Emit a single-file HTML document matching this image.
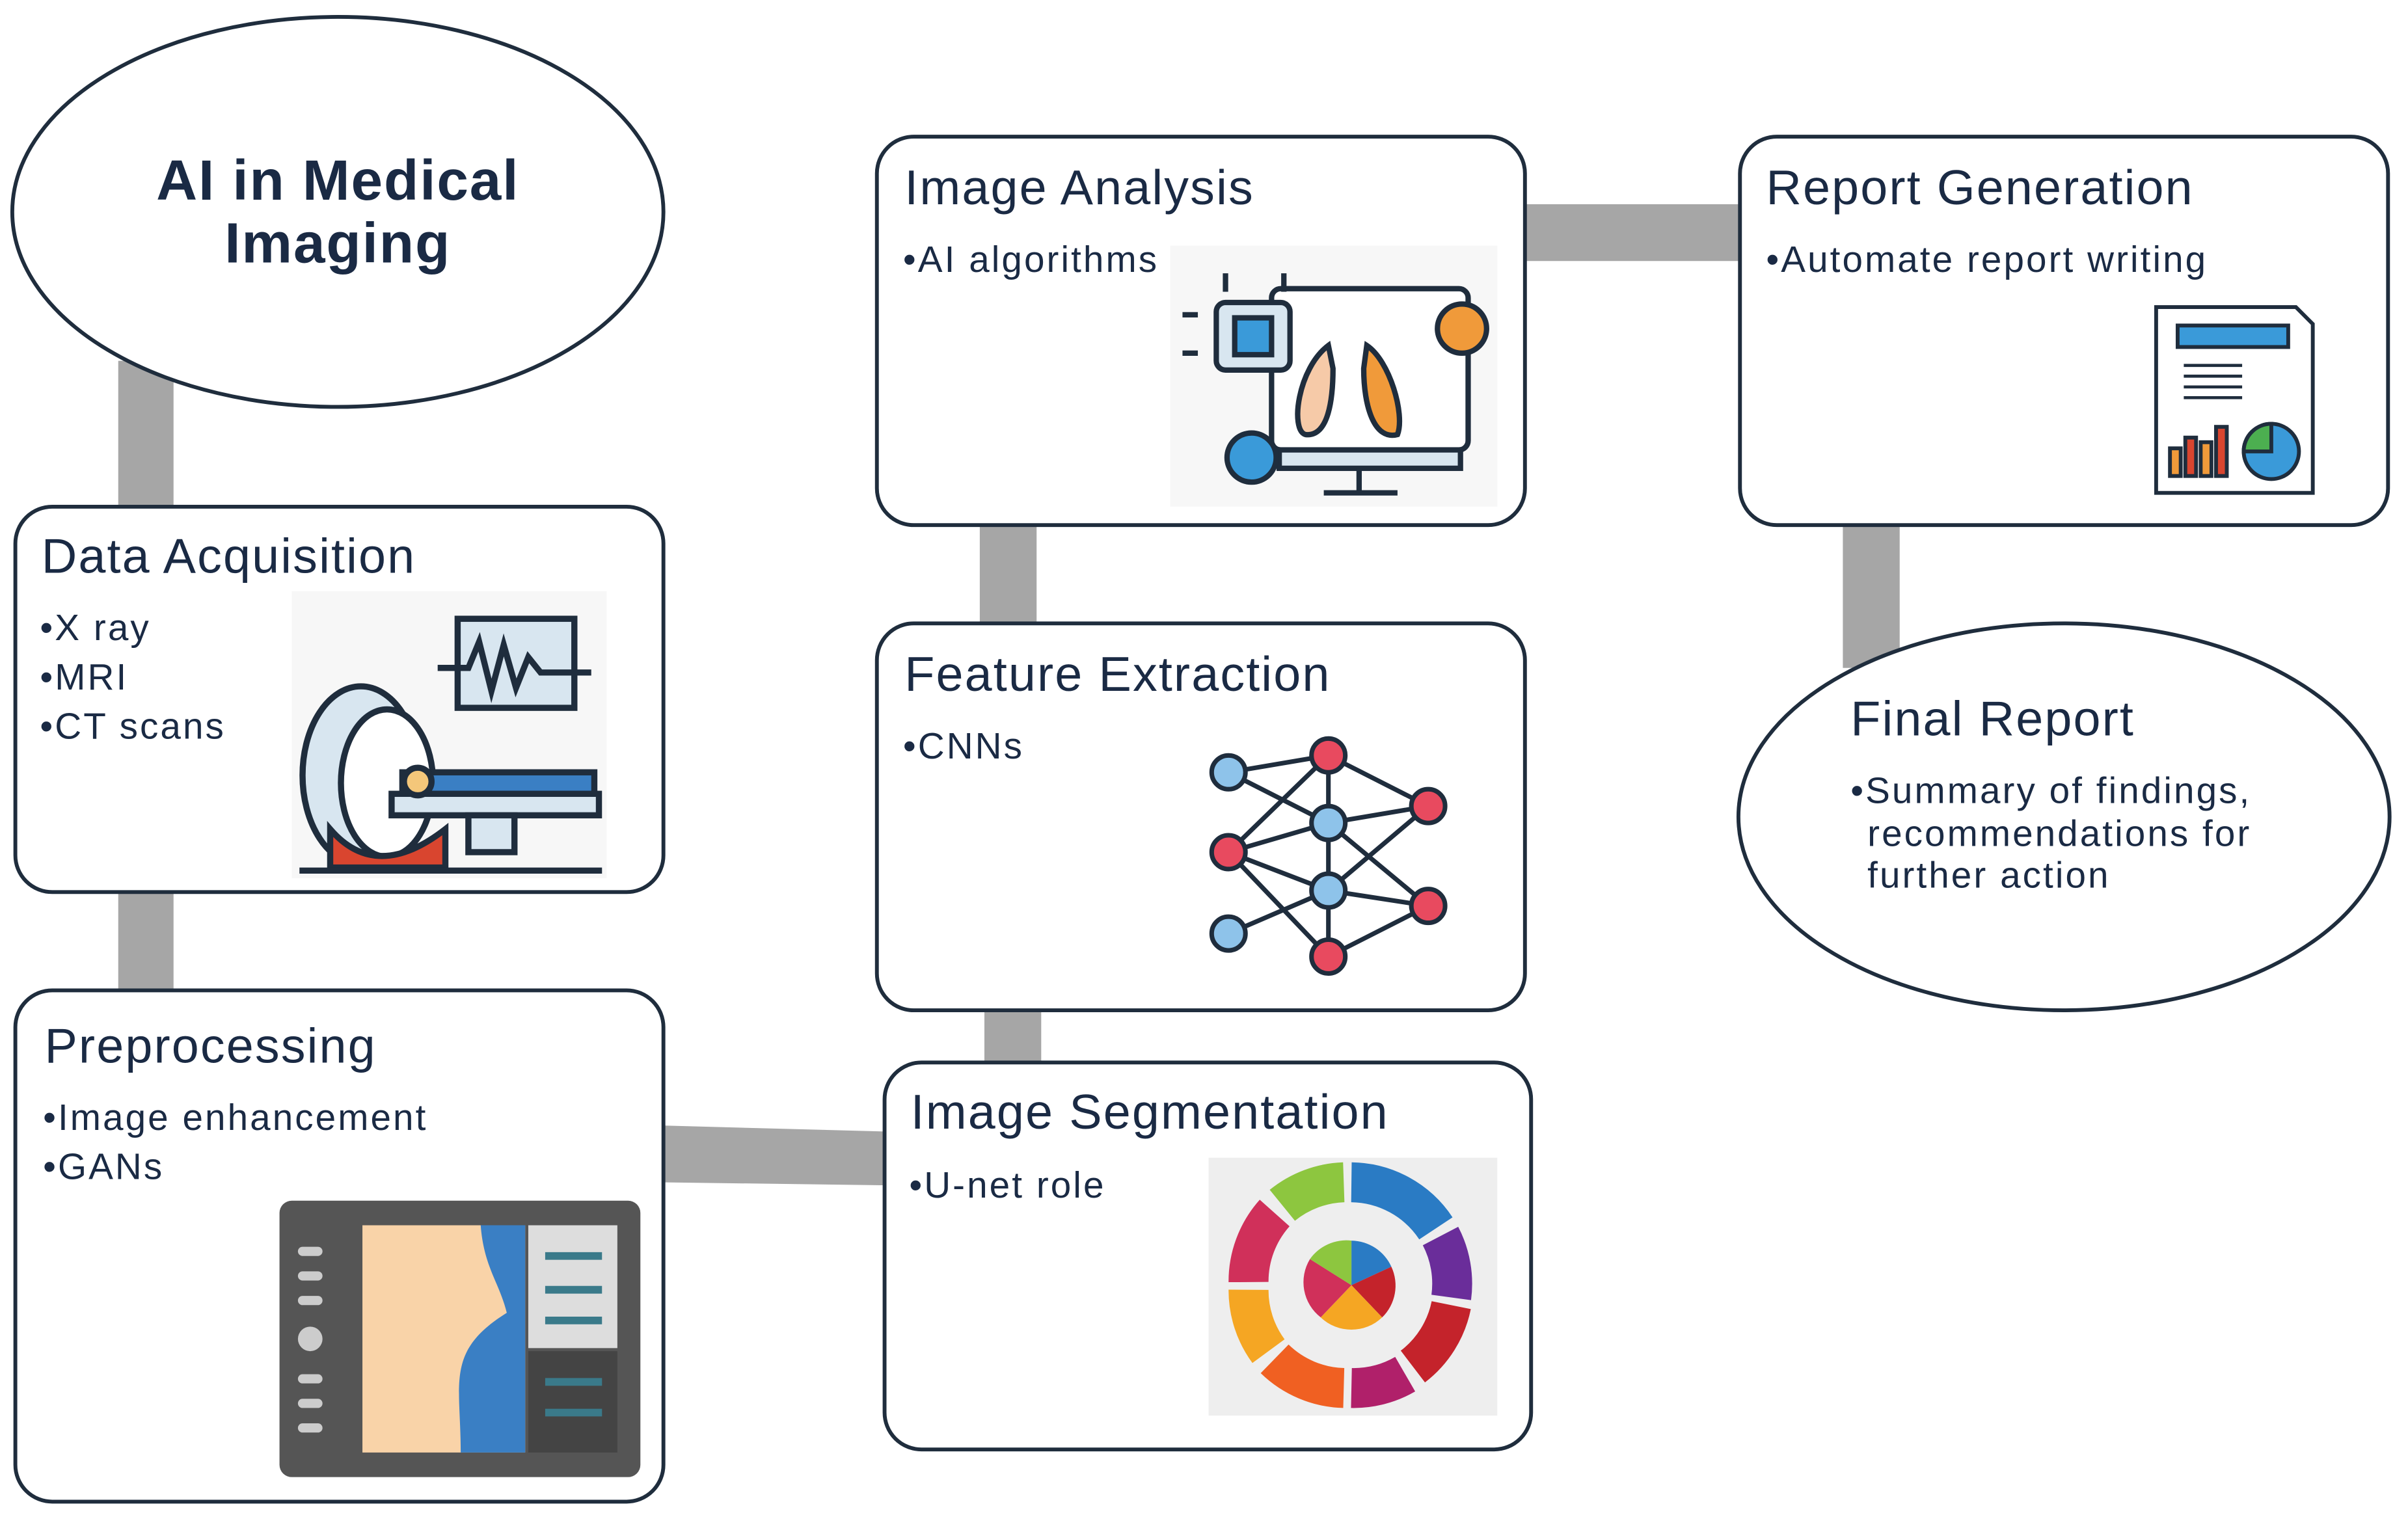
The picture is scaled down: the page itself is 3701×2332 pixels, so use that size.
<!DOCTYPE html>
<html><head><meta charset="utf-8"><style>html,body{margin:0;padding:0;background:#fff}svg{display:block}</style></head>
<body>
<svg width="3701" height="2332" viewBox="0 0 1568 988" preserveAspectRatio="none" xmlns="http://www.w3.org/2000/svg" font-family="Liberation Sans, sans-serif">
<rect width="1568" height="988" fill="#fff"/>
<g fill="#a6a6a6">
<rect x="77" y="235" width="36" height="100"/>
<rect x="77" y="578" width="36" height="70"/>
<polygon points="430,733 578,737 578,772 430,770"/>
<rect x="641" y="655" width="37" height="40"/>
<rect x="638" y="340" width="37" height="70"/>
<rect x="990" y="133" width="146" height="37"/>
<rect x="1200" y="340" width="37" height="95"/>
</g>
<g fill="#fff" stroke="#1f2d3d" stroke-width="2.5">
<ellipse cx="220" cy="138" rx="212" ry="127"/>
<rect x="10" y="330" width="422" height="251" rx="24"/>
<rect x="10" y="645" width="422" height="333" rx="24"/>
<rect x="576" y="692" width="421" height="252" rx="24"/>
<rect x="571" y="406" width="422" height="252" rx="24"/>
<rect x="571" y="89" width="422" height="253" rx="24"/>
<rect x="1133" y="89" width="422" height="253" rx="24"/>
<ellipse cx="1344" cy="532" rx="212" ry="126"/>
</g>
<g fill="#1a2a44">
<g font-size="37" font-weight="bold" text-anchor="middle" letter-spacing="0.8">
<text x="220" y="130">AI in Medical</text>
<text x="220" y="171">Imaging</text>
</g>
<g font-size="32" letter-spacing="0.9">
<text x="27" y="373">Data Acquisition</text>
<text x="29" y="692">Preprocessing</text>
<text x="593" y="735">Image Segmentation</text>
<text x="589" y="450">Feature Extraction</text>
<text x="589" y="133">Image Analysis</text>
<text x="1150" y="133">Report Generation</text>
<text x="1205" y="479">Final Report</text>
</g>
<g font-size="24" letter-spacing="1.3">
<text x="26" y="417">•X ray</text>
<text x="26" y="449">•MRI</text>
<text x="26" y="481">•CT scans</text>
<text x="28" y="736">•Image enhancement</text>
<text x="28" y="768">•GANs</text>
<text x="592" y="780">•U-net role</text>
<text x="588" y="494">•CNNs</text>
<text x="588" y="177">•AI algorithms</text>
<text x="1150" y="177">•Automate report writing</text>
<text x="1205" y="523">•Summary of findings,</text>
<text x="1216" y="551">recommendations for</text>
<text x="1216" y="578">further action</text>
</g>
</g>
<rect x="190" y="385" width="205" height="187" fill="#f7f7f7"/>
<g stroke="#1f2d3d" stroke-width="4" fill="none">
<rect x="298" y="403" width="76" height="58" fill="#d8e6f0"/>
<polyline points="285,435 305,435 312,418 320,450 328,420 336,448 344,428 352,438 385,438"/>
<ellipse cx="235" cy="505" rx="38" ry="58" fill="#d8e6f0"/>
<ellipse cx="252" cy="510" rx="30" ry="48" fill="#fff"/>
<path d="M215,540 Q245,575 290,540 L290,565 L215,565Z" fill="#d9452f"/>
<rect x="262" y="503" width="125" height="14" fill="#3a7fc4"/>
<rect x="255" y="517" width="135" height="14" fill="#d8e6f0"/>
<rect x="305" y="531" width="30" height="24" fill="#d8e6f0"/>
<line x1="195" y1="567" x2="392" y2="567"/>
<circle cx="272" cy="509" r="9" fill="#f4c77a"/>
</g>
<rect x="762" y="160" width="213" height="170" fill="#f7f7f7"/>
<g stroke="#1f2d3d" stroke-width="3.5" fill="none">
<rect x="828" y="188" width="128" height="105" rx="6" fill="#fff"/>
<rect x="833" y="293" width="118" height="12" fill="#d8e6f0"/>
<line x1="885" y1="305" x2="885" y2="320"/><line x1="862" y1="321" x2="910" y2="321"/>
<rect x="792" y="197" width="48" height="44" rx="6" fill="#d8e6f0"/>
<rect x="804" y="207" width="24" height="24" fill="#3a9ad9"/>
<path d="M865,225 C845,240 840,280 850,283 C865,285 868,260 868,240Z" fill="#f6caa8"/>
<path d="M890,225 C905,235 915,270 910,283 C895,287 888,265 888,240Z" fill="#f09a3a"/>
<circle cx="952" cy="214" r="16" fill="#f09a3a"/>
<circle cx="815" cy="298" r="16" fill="#3a9ad9"/>
<line x1="798" y1="190" x2="798" y2="178"/><line x1="836" y1="190" x2="836" y2="178"/>
<line x1="780" y1="205" x2="770" y2="205"/><line x1="780" y1="230" x2="770" y2="230"/>
</g>
<g stroke="#1f2d3d" stroke-width="2.5">
<path d="M1404,200 L1495,200 L1506,211 L1506,321 L1404,321Z" fill="#fff"/>
<rect x="1418" y="212" width="72" height="14" fill="#3a9ad9"/>
<g stroke-width="2"><line x1="1422" y1="238" x2="1460" y2="238"/><line x1="1422" y1="245" x2="1460" y2="245"/><line x1="1422" y1="252" x2="1460" y2="252"/><line x1="1422" y1="259" x2="1460" y2="259"/></g>
<rect x="1413" y="292" width="7" height="18" fill="#f09a3a"/><rect x="1423" y="285" width="7" height="25" fill="#d9452f"/><rect x="1433" y="288" width="7" height="22" fill="#f09a3a"/><rect x="1443" y="278" width="7" height="32" fill="#d9452f"/>
<circle cx="1479" cy="294" r="18" fill="#3a9ad9"/>
<path d="M1479,294 L1479,276 A18,18 0 0,0 1461,294Z" fill="#4caf50"/>
</g>
<g stroke="#1f2d3d" stroke-width="3">
<g fill="none">
<path d="M800,503 L865,492 M800,503 L865,536 M800,555 L865,492 M800,555 L865,536 M800,555 L865,580 M800,555 L865,623 M800,608 L865,580 M865,492 L930,525 M865,536 L930,525 M865,536 L930,590 M865,580 L930,525 M865,580 L930,590 M865,623 L930,590 M865,492 L865,623"/>
</g>
<g fill="#8ec3ea"><circle cx="800" cy="503" r="11"/><circle cx="800" cy="608" r="11"/><circle cx="865" cy="536" r="11"/><circle cx="865" cy="580" r="11"/></g>
<g fill="#e84a5f"><circle cx="800" cy="555" r="11"/><circle cx="865" cy="492" r="11"/><circle cx="865" cy="623" r="11"/><circle cx="930" cy="525" r="11"/><circle cx="930" cy="590" r="11"/></g>
</g>
<rect x="182" y="782" width="235" height="180" rx="8" fill="#555"/>
<rect x="236" y="798" width="106" height="148" fill="#f9d3a8"/>
<path d="M313,798 L342,798 L342,946 L300,946 C300,900 290,880 330,855 C325,835 315,825 313,798Z" fill="#3a7fc4"/>
<rect x="344" y="798" width="58" height="80" fill="#ddd"/>
<rect x="344" y="880" width="58" height="66" fill="#444"/>
<g fill="#ccc"><rect x="194" y="812" width="16" height="6" rx="3"/><rect x="194" y="828" width="16" height="6" rx="3"/><rect x="194" y="844" width="16" height="6" rx="3"/><circle cx="202" cy="872" r="8"/><rect x="194" y="895" width="16" height="6" rx="3"/><rect x="194" y="911" width="16" height="6" rx="3"/><rect x="194" y="927" width="16" height="6" rx="3"/></g>
<g stroke="#3a7a8a" stroke-width="5"><line x1="355" y1="818" x2="392" y2="818"/><line x1="355" y1="840" x2="392" y2="840"/><line x1="355" y1="860" x2="392" y2="860"/><line x1="355" y1="900" x2="392" y2="900"/><line x1="355" y1="920" x2="392" y2="920"/></g>
<rect x="787" y="754" width="188" height="168" fill="#eee"/>
<g fill="none" stroke-width="26">
<path d="M880,770 A67,67 0 0,1 935,800" stroke="#2a7bc4"/>
<path d="M938,805 A67,67 0 0,1 945,845" stroke="#6a2d9a"/>
<path d="M945,850 A67,67 0 0,1 920,890" stroke="#c4232b"/>
<path d="M915,895 A67,67 0 0,1 880,904" stroke="#b0206a"/>
<path d="M875,904 A67,67 0 0,1 830,885" stroke="#f06022"/>
<path d="M826,880 A67,67 0 0,1 813,840" stroke="#f5a623"/>
<path d="M813,835 A67,67 0 0,1 830,790" stroke="#d0305a"/>
<path d="M835,785 A67,67 0 0,1 875,770" stroke="#8dc63f"/>
</g>
<g><path d="M880,837 L880,808 A29,29 0 0,1 906,825Z" fill="#2a7bc4"/><path d="M880,837 L906,825 A29,29 0 0,1 900,858Z" fill="#c4232b"/><path d="M880,837 L900,858 A29,29 0 0,1 860,858Z" fill="#f5a623"/><path d="M880,837 L860,858 A29,29 0 0,1 853,820Z" fill="#d0305a"/><path d="M880,837 L853,820 A29,29 0 0,1 880,808Z" fill="#8dc63f"/></g>
</svg>
</body></html>
